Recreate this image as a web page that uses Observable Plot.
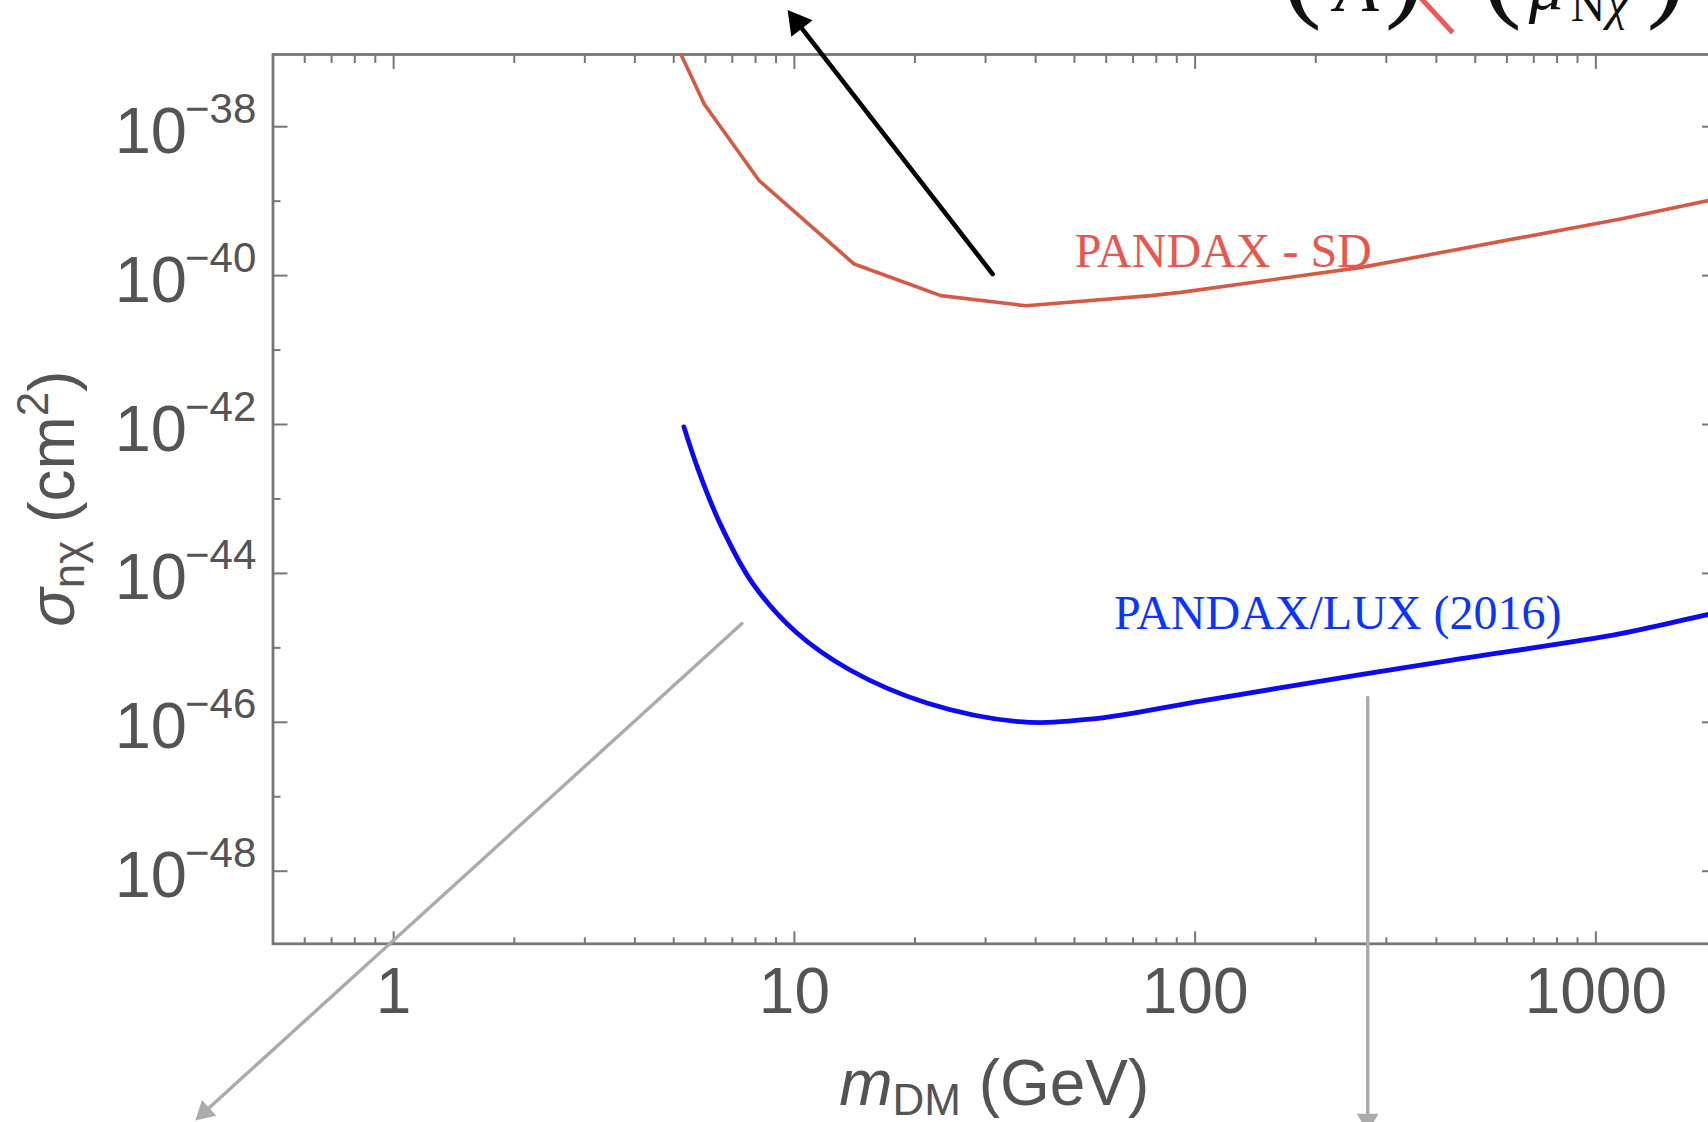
<!DOCTYPE html>
<html><head><meta charset="utf-8">
<script src="https://cdn.jsdelivr.net/npm/d3@7"></script>
<script src="https://cdn.jsdelivr.net/npm/@observablehq/plot@0.6"></script>
<style>
html,body{margin:0;padding:0;background:#fff;overflow:hidden;width:1708px;height:1122px;}
svg{display:block}
</style></head><body><div id="chart"></div>
<script>
// ---------- data ----------
// PANDAX spin-dependent limit
const sdMass  = [5.0, 5.96, 8.17, 14.1, 23.2, 37.8, 77.6, 92, 260, 1153, 1910, 2000];
const sdSigma = [1.51e-37, 2.0e-38, 1.88e-39, 1.43e-40, 5.38e-41, 3.94e-41, 5.38e-41, 5.96e-41, 1.29e-40, 5.75e-40, 1.02e-39, 1.07e-39];
// PANDAX/LUX (2016) spin-independent limit
const luxMass  = [5.3, 5.75, 6.52, 7.86, 10.1, 13.8, 21.4, 36.4, 54.6, 105, 261, 438, 1153, 1910, 2000];
const luxSigma = [9.3e-43, 2.5e-43, 4.7e-44, 7.4e-45, 1.62e-45, 5.0e-46, 1.82e-46, 1.02e-46, 1.10e-46, 1.96e-46, 4.41e-46, 6.85e-46, 1.55e-45, 2.82e-45, 2.95e-45];

const curveLabels = [
  {text: "PANDAX - SD",       m: 50.1, s: 1.29e-40, color: "#e8574d"},
  {text: "PANDAX/LUX (2016)", m: 62.7, s: 1.80e-45, color: "#0a34ff"}
];

const xMajorTicks = [1, 10, 100, 1000];
const xMinorTicks = [0.6, 0.7, 0.8, 0.9, 2, 3, 4, 5, 6, 7, 8, 9, 20, 30, 40, 50, 60, 70, 80, 90, 200, 300, 400, 500, 600, 700, 800, 900];
const yMajorExps = [-48, -46, -44, -42, -40, -38];
const yMinorExps = [-47, -45, -43, -41, -39];

const xDomain = [0.5, 2000];
const yDomain = [Math.pow(10, -48.975), Math.pow(10, -37.03)];

// annotation arrows (in data units)
const arrows = [
  {m1: 31.24, s1: 1.05e-40, m2: 9.62,  s2: 3.69e-37, color: "#000000", width: 4.6, head: 10},
  {m1: 7.40,  s1: 2.12e-45, m2: 0.320, s2: 4.49e-52, color: "#ababab", width: 3.4, head: 8},
  {m1: 269.6, s1: 2.15e-46, m2: 269.6, s2: 3.1e-52,  color: "#ababab", width: 3.4, head: 8}
];

// partial formula at the top edge (in data units)
const formulaPieces = [
  {t: "(", m: 164.6, s: 4.35e-37, size: 120, style: "normal"},
  {t: "A", m: 223.1, s: 3.61e-37, size: 72,  style: "italic"},
  {t: ")", m: 297.3, s: 4.35e-37, size: 120, style: "normal"},
  {t: "(", m: 519.0, s: 4.35e-37, size: 120, style: "normal"},
  {t: "μ", m: 679.8, s: 3.85e-37, size: 70,  style: "italic"},
  {t: "N", m: 865.3, s: 2.65e-37, size: 48,  style: "normal"},
  {t: "χ", m: 1064,  s: 2.74e-37, size: 48,  style: "italic"},
  {t: ")", m: 1338.6, s: 4.35e-37, size: 120, style: "normal"}
];
const formulaSlash = [{m1: 361.4, s1: 5.74e-37, m2: 439.4, s2: 1.83e-37}];

// ---------- layout ----------
const W = 1708, H = 1122;
const mL = 272.5, mT = 54, mR = -8, mB = 178.7;
const frameColor = "#777777", labelColor = "#545454";

const xs = Plot.scale({x: {type: "log", domain: xDomain, range: [mL, W - mR]}});
const ys = Plot.scale({y: {type: "log", domain: yDomain, range: [H - mB, mT]}});

const sdData = sdMass.map((m, i) => ({m, s: sdSigma[i]}));
const luxData = luxMass.map((m, i) => ({m, s: luxSigma[i]}));

const arrowMarks = [];
for (const a of arrows) {
  const px1 = xs.apply(a.m1), py1 = ys.apply(a.s1), px2 = xs.apply(a.m2), py2 = ys.apply(a.s2);
  const dx = px2 - px1, dy = py2 - py1, L = Math.hypot(dx, dy);
  const ux = dx / L, uy = dy / L;
  const ang = Math.atan2(dx, -dy) * 180 / Math.PI;
  const area = Math.PI * a.head * a.head;
  const tipDist = 2 * Math.sqrt(area / (3 * Math.sqrt(3)));
  arrowMarks.push(Plot.arrow([a], {x1: "m1", y1: "s1", x2: "m2", y2: "s2", stroke: a.color, strokeWidth: a.width, headLength: 0, insetEnd: tipDist}));
  arrowMarks.push(Plot.dot([a], {x: "m2", y: "s2", symbol: "triangle", r: a.head, fill: a.color, stroke: "none", rotate: ang, dx: -tipDist * ux, dy: -tipDist * uy}));
}

const chart = Plot.plot({
  width: W, height: H,
  marginLeft: mL, marginTop: mT, marginRight: mR, marginBottom: mB,
  style: {overflow: "hidden", background: "white", fontFamily: "Liberation Sans"},
  x: {type: "log", domain: xDomain, axis: null, label: null},
  y: {type: "log", domain: yDomain, axis: null, label: null},
  marks: [
    // inward frame ticks
    Plot.axisX(xMajorTicks, {anchor: "bottom", tickSize: 12, dy: -12, tickFormat: () => "", stroke: frameColor, strokeWidth: 2, label: null}),
    Plot.axisX(xMinorTicks, {anchor: "bottom", tickSize: 6, dy: -6, tickFormat: () => "", stroke: frameColor, strokeWidth: 2, label: null}),
    Plot.axisX(xMajorTicks, {anchor: "top", tickSize: 14, dy: 14, tickFormat: () => "", stroke: frameColor, strokeWidth: 2, label: null}),
    Plot.axisX(xMinorTicks, {anchor: "top", tickSize: 8, dy: 8, tickFormat: () => "", stroke: frameColor, strokeWidth: 2, label: null}),
    Plot.axisY(yMajorExps.map(e => Math.pow(10, e)), {anchor: "left", tickSize: 15, dx: 15, tickFormat: () => "", stroke: frameColor, strokeWidth: 2, label: null}),
    Plot.axisY(yMinorExps.map(e => Math.pow(10, e)), {anchor: "left", tickSize: 8, dx: 8, tickFormat: () => "", stroke: frameColor, strokeWidth: 2, label: null}),
    Plot.axisY(yMajorExps.map(e => Math.pow(10, e)), {anchor: "right", tickSize: 15, dx: -15, tickFormat: () => "", stroke: frameColor, strokeWidth: 2, label: null}),
    Plot.axisY(yMinorExps.map(e => Math.pow(10, e)), {anchor: "right", tickSize: 8, dx: -8, tickFormat: () => "", stroke: frameColor, strokeWidth: 2, label: null}),
    Plot.frame({stroke: frameColor, strokeWidth: 2.8}),
    // tick labels
    Plot.text(xMajorTicks, {x: d => d, frameAnchor: "bottom", text: d => String(d), lineAnchor: "top", dy: 24, fontSize: 64, fontFamily: "Liberation Sans", fill: labelColor}),
    Plot.text(yMajorExps, {y: e => Math.pow(10, e), frameAnchor: "left", text: () => "10", textAnchor: "end", lineAnchor: "bottom", dx: -86, dy: 26, fontSize: 65, fontFamily: "Liberation Sans", fill: labelColor}),
    Plot.text(yMajorExps, {y: e => Math.pow(10, e), frameAnchor: "left", text: e => "\u2212" + (-e), textAnchor: "start", lineAnchor: "bottom", dx: -88, dy: -4, fontSize: 42, fontFamily: "Liberation Sans", fill: labelColor}),
    // curves
    Plot.line(sdData, {x: "m", y: "s", stroke: "#d65a43", strokeWidth: 3.6, clip: true}),
    Plot.line(luxData, {x: "m", y: "s", stroke: "#0a0af5", strokeWidth: 4.8, curve: "catmull-rom", clip: true}),
    // curve labels
    Plot.text(curveLabels, {x: "m", y: "s", text: "text", fill: "color", textAnchor: "start", lineAnchor: "bottom", fontSize: 48, fontFamily: "Liberation Serif"}),
    // annotations
    ...arrowMarks,
    Plot.link(formulaSlash, {x1: "m1", y1: "s1", x2: "m2", y2: "s2", stroke: "#ec5a5a", strokeWidth: 5}),
    ...formulaPieces.map(p => Plot.text([p], {x: "m", y: "s", text: "t", textAnchor: "start", lineAnchor: "bottom", fontSize: p.size, fontStyle: p.style, fontFamily: "Liberation Serif", fill: "#111"}))
  ]
});

document.getElementById("chart").appendChild(chart);

// axis titles with sub/superscripts
const svg = d3.select(chart);
const cx = (mL + (W - mR)) / 2, cy = (mT + (H - mB)) / 2;
const xt = svg.append("text").attr("x", cx).attr("y", 1105).attr("text-anchor", "middle")
  .attr("font-family", "Liberation Sans").attr("font-size", 64).attr("fill", labelColor);
xt.append("tspan").attr("font-style", "italic").text("m");
xt.append("tspan").attr("font-size", 44).attr("dy", 10).text("DM");
xt.append("tspan").attr("dy", -10).text(" (GeV)");

const yt = svg.append("text").attr("transform", `translate(74,${cy}) rotate(-90)`).attr("text-anchor", "middle")
  .attr("font-family", "Liberation Sans").attr("font-size", 64).attr("fill", labelColor);
yt.append("tspan").attr("font-style", "italic").text("σ");
yt.append("tspan").attr("font-size", 44).attr("dy", 10).text("nχ");
yt.append("tspan").attr("dy", -10).text(" (cm");
yt.append("tspan").attr("font-size", 44).attr("dy", -26).text("2");
yt.append("tspan").attr("dy", 26).text(")");
</script></body></html>
